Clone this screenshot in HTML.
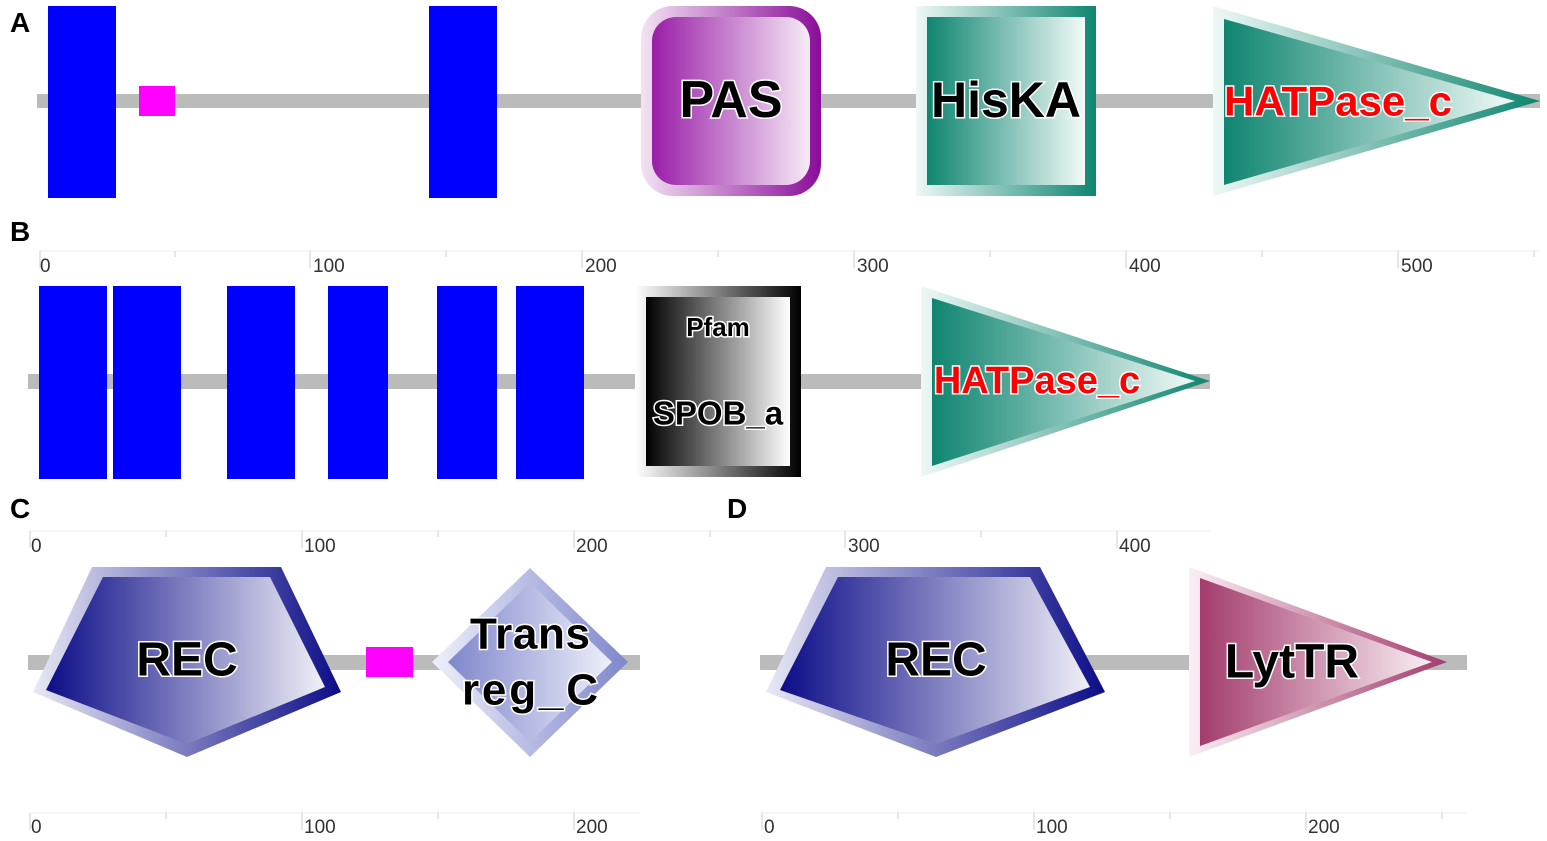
<!DOCTYPE html>
<html><head><meta charset="utf-8"><style>body{margin:0;background:#fff}svg{display:block}
.t{font-family:"Liberation Sans",sans-serif;font-weight:bold;paint-order:stroke;stroke:#fff;stroke-width:3px;text-anchor:middle;dominant-baseline:central}
.k{fill:#000}.r{fill:#f00}
.L{font-family:"Liberation Sans",sans-serif;font-weight:bold;font-size:28px;fill:#000}
.n{font-family:"Liberation Sans",sans-serif;font-size:19px;fill:#333}
</style></head><body>
<svg width="1547" height="841" viewBox="0 0 1547 841" xmlns="http://www.w3.org/2000/svg">
<defs>
<linearGradient id="pu"><stop offset="0" stop-color="#9a1ea8"/><stop offset="1" stop-color="#f6eaf6"/></linearGradient>
<linearGradient id="pu2"><stop offset="0" stop-color="#f3e3f3"/><stop offset="1" stop-color="#8a0c9a"/></linearGradient>
<linearGradient id="gr"><stop offset="0" stop-color="#0f8570"/><stop offset="1" stop-color="#f2faf8"/></linearGradient>
<linearGradient id="gr2"><stop offset="0" stop-color="#eef8f6"/><stop offset="1" stop-color="#0f8570"/></linearGradient>
<linearGradient id="bk"><stop offset="0" stop-color="#000"/><stop offset="1" stop-color="#fff"/></linearGradient>
<linearGradient id="bk2"><stop offset="0" stop-color="#fff"/><stop offset="1" stop-color="#000"/></linearGradient>
<linearGradient id="bl"><stop offset="0" stop-color="#0c0c88"/><stop offset="1" stop-color="#f0f0f8"/></linearGradient>
<linearGradient id="bl2"><stop offset="0" stop-color="#e8e8f6"/><stop offset="1" stop-color="#0c0c88"/></linearGradient>
<linearGradient id="lb"><stop offset="0" stop-color="#7f86cc"/><stop offset="1" stop-color="#eef0fa"/></linearGradient>
<linearGradient id="lb2"><stop offset="0" stop-color="#eef0fa"/><stop offset="1" stop-color="#7f86cc"/></linearGradient>
<linearGradient id="mr"><stop offset="0" stop-color="#a33c6c"/><stop offset="1" stop-color="#faeef4"/></linearGradient>
<linearGradient id="mr2"><stop offset="0" stop-color="#fbeef4"/><stop offset="1" stop-color="#a33c6c"/></linearGradient>
</defs>
<!-- A -->
<text class="L" x="10" y="32">A</text>
<rect x="37" y="94" width="1503" height="14" fill="#bbb"/>
<rect x="48" y="6" width="68" height="192" fill="#0000ff"/>
<rect x="429" y="6" width="68" height="192" fill="#0000ff"/>
<rect x="139" y="86" width="36" height="30" fill="#ff00ff"/>
<rect x="641" y="6" width="180" height="190" rx="32" fill="url(#pu2)"/>
<rect x="652" y="17" width="158" height="168" rx="24" fill="url(#pu)"/>
<text class="t k" x="731" y="100" font-size="52">PAS</text>
<rect x="916" y="6" width="180" height="190" fill="url(#gr2)"/>
<rect x="927" y="17" width="158" height="168" fill="url(#gr)"/>
<text class="t k" x="1006" y="100" font-size="50">HisKA</text>
<polygon points="1213,6 1213,196 1540,101" fill="url(#gr2)"/>
<polygon points="1224,19 1224,185 1515,101" fill="url(#gr)"/>
<text class="t r" x="1338" y="101" font-size="42">HATPase_c</text>
<!-- B ruler -->
<text class="L" x="10" y="241">B</text>
<line x1="40" y1="251" x2="1540" y2="251" stroke="#eee"/>
<g stroke="#ccc"><line x1="40" y1="251" x2="40" y2="268"/><line x1="175" y1="251" x2="175" y2="257"/><line x1="310" y1="251" x2="310" y2="268"/><line x1="446" y1="251" x2="446" y2="257"/><line x1="582" y1="251" x2="582" y2="268"/><line x1="718" y1="251" x2="718" y2="257"/><line x1="854" y1="251" x2="854" y2="268"/><line x1="990" y1="251" x2="990" y2="257"/><line x1="1126" y1="251" x2="1126" y2="268"/><line x1="1262" y1="251" x2="1262" y2="257"/><line x1="1398" y1="251" x2="1398" y2="268"/><line x1="1534" y1="251" x2="1534" y2="257"/></g>
<g class="n"><text x="40" y="272">0</text><text x="313" y="272">100</text><text x="585" y="272">200</text><text x="857" y="272">300</text><text x="1129" y="272">400</text><text x="1401" y="272">500</text></g>
<!-- B -->
<rect x="28" y="374" width="1182" height="15" fill="#bbb"/>
<g fill="#0000ff"><rect x="39" y="286" width="68" height="193"/><rect x="113" y="286" width="68" height="193"/><rect x="227" y="286" width="68" height="193"/><rect x="328" y="286" width="60" height="193"/><rect x="437" y="286" width="60" height="193"/><rect x="516" y="286" width="68" height="193"/></g>
<rect x="635" y="286" width="166" height="191" fill="url(#bk2)"/>
<rect x="646" y="297" width="144" height="169" fill="url(#bk)"/>
<text class="t k" x="718" y="327" font-size="26">Pfam</text>
<text class="t k" x="718" y="413" font-size="33">SPOB_a</text>
<polygon points="921,286 921,477 1210,381" fill="url(#gr2)"/>
<polygon points="932,298 932,466 1195,381" fill="url(#gr)"/>
<text class="t r" x="1037" y="381" font-size="38">HATPase_c</text>
<!-- C/D ruler -->
<text class="L" x="10" y="518">C</text>
<text class="L" x="727" y="518">D</text>
<line x1="30" y1="531" x2="1210" y2="531" stroke="#eee"/>
<g stroke="#ccc"><line x1="30" y1="531" x2="30" y2="548"/><line x1="166" y1="531" x2="166" y2="537"/><line x1="302" y1="531" x2="302" y2="548"/><line x1="438" y1="531" x2="438" y2="537"/><line x1="574" y1="531" x2="574" y2="548"/><line x1="710" y1="531" x2="710" y2="537"/><line x1="845" y1="531" x2="845" y2="548"/><line x1="981" y1="531" x2="981" y2="537"/><line x1="1117" y1="531" x2="1117" y2="548"/></g>
<g class="n"><text x="31" y="552">0</text><text x="304" y="552">100</text><text x="576" y="552">200</text><text x="848" y="552">300</text><text x="1119" y="552">400</text></g>
<!-- C -->
<rect x="28" y="655" width="612" height="15" fill="#bbb"/>
<polygon points="92,567 281,567 341,692 187,757 33,692" fill="url(#bl2)"/>
<polygon points="103,577 270,577 325,687 187,744 46,690" fill="url(#bl)"/>
<text class="t k" x="187" y="660" font-size="48">REC</text>
<rect x="366" y="647" width="47" height="30" fill="#ff00ff"/>
<polygon points="530,568 628,662 530,757 432,662" fill="url(#lb2)"/>
<polygon points="530,583 612,662 530,742 448,662" fill="url(#lb)"/>
<text class="t k" x="530" y="634" font-size="44" textLength="120">Trans</text>
<text class="t k" x="530" y="690" font-size="44" textLength="136">reg_C</text>
<!-- D -->
<rect x="760" y="655" width="707" height="15" fill="#bbb"/>
<polygon points="826,567 1040,567 1105,692 936,757 766,692" fill="url(#bl2)"/>
<polygon points="838,577 1030,577 1090,687 936,744 780,690" fill="url(#bl)"/>
<text class="t k" x="936" y="660" font-size="48">REC</text>
<polygon points="1189,567 1189,757 1447,662" fill="url(#mr2)"/>
<polygon points="1200,578 1200,746 1432,662" fill="url(#mr)"/>
<text class="t k" x="1292" y="662" font-size="48">LytTR</text>
<!-- bottom rulers -->
<line x1="30" y1="813" x2="640" y2="813" stroke="#eee"/>
<line x1="762" y1="813" x2="1467" y2="813" stroke="#eee"/>
<g stroke="#ccc"><line x1="30" y1="813" x2="30" y2="830"/><line x1="166" y1="813" x2="166" y2="819"/><line x1="302" y1="813" x2="302" y2="830"/><line x1="438" y1="813" x2="438" y2="819"/><line x1="574" y1="813" x2="574" y2="830"/><line x1="762" y1="813" x2="762" y2="830"/><line x1="898" y1="813" x2="898" y2="819"/><line x1="1034" y1="813" x2="1034" y2="830"/><line x1="1170" y1="813" x2="1170" y2="819"/><line x1="1306" y1="813" x2="1306" y2="830"/><line x1="1442" y1="813" x2="1442" y2="819"/></g>
<g class="n"><text x="31" y="833">0</text><text x="304" y="833">100</text><text x="576" y="833">200</text><text x="764" y="833">0</text><text x="1036" y="833">100</text><text x="1308" y="833">200</text></g>
</svg>
</body></html>
